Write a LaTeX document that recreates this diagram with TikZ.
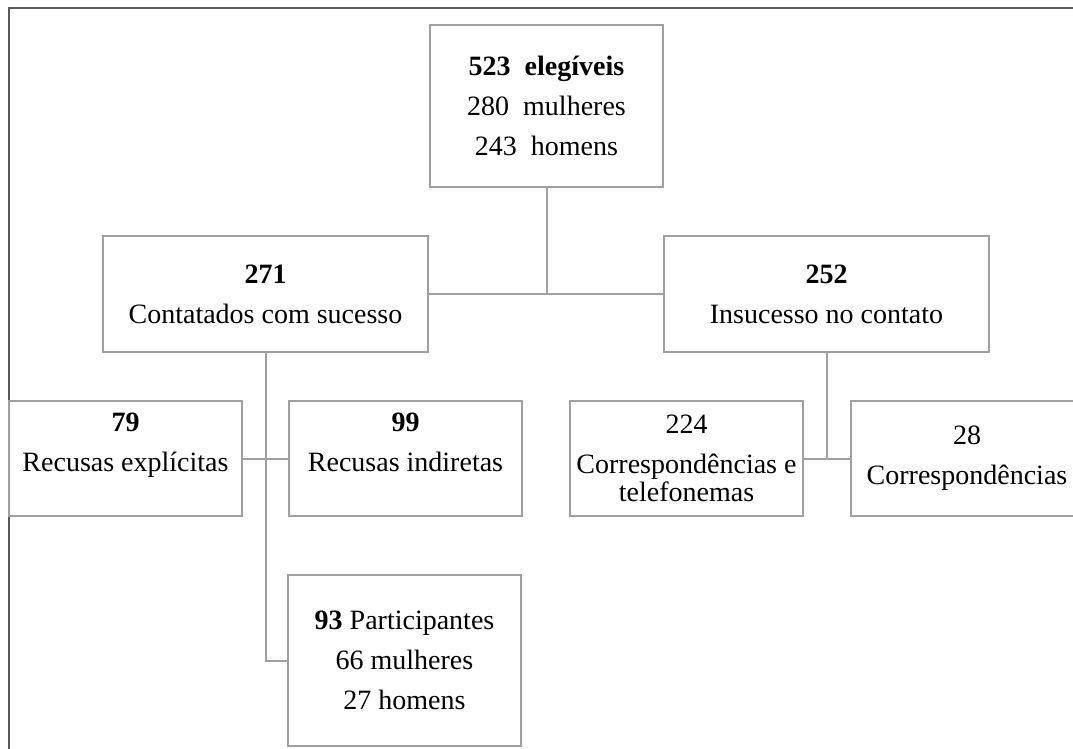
\documentclass[tikz,border=0pt]{standalone}
\usepackage{fontspec}
\setmainfont{Liberation Serif}
\definecolor{boxgray}{RGB}{160,160,160}
\definecolor{framegray}{RGB}{90,90,90}
\begin{document}
\begin{tikzpicture}[x=1pt,y=-1pt,
  box/.style={draw=boxgray, line width=2pt, rectangle, inner sep=0pt, align=center,
    font=\fontsize{28}{40}\selectfont, text=black},
  link/.style={draw=boxgray, line width=2pt},
  frameline/.style={draw=framegray, line width=2pt}]
\clip (0,0) rectangle (1073,748);
\fill[white] (0,0) rectangle (1073,748);
\draw[frameline] (9,760) -- (9,8) -- (1080,8);

\node[box, minimum width=233pt, minimum height=162pt] (e523) at (546.5,106)
  {\textbf{523\ \ elegíveis}\\280\ \ mulheres\\243\ \ homens};
\node[box, minimum width=325pt, minimum height=116pt] (c271) at (265.5,294)
  {\textbf{271}\\Contatados com sucesso};
\node[box, minimum width=325pt, minimum height=116pt] (c252) at (826.5,294)
  {\textbf{252}\\Insucesso no contato};
\node[box, minimum width=233pt, minimum height=115pt] (c79) at (125.5,458.5)
  {\textbf{79}\\Recusas explícitas\rule[-32pt]{0pt}{32pt}};
\node[box, minimum width=233pt, minimum height=115pt] (c99) at (405.5,458.5)
  {\textbf{99}\\Recusas indiretas\rule[-32pt]{0pt}{32pt}};
\node[box, minimum width=233pt, minimum height=171pt] (c93) at (404.5,660.5)
  {\textbf{93} Participantes\\66 mulheres\\27 homens};
\node[box, minimum width=233pt, minimum height=115pt,
  font=\fontsize{28}{28}\selectfont] (c224) at (686.5,458.5)
  {224\\[12pt]Correspondências e\\telefonemas};
\node[box, minimum width=232pt, minimum height=115pt] (c28) at (967,458.5)
  {28\\Correspondências};

\draw[link] (e523.south) -- (e523.south |- c271.east);
\draw[link] (c271.east) -- (c252.west);
\draw[link] (c271.south) |- (c93.west);
\draw[link] (c79.east) -- (c99.west);
\draw[link] (c252.south) -- (c252.south |- c224.east);
\draw[link] (c224.east) -- (c28.west);
\end{tikzpicture}
\end{document}
